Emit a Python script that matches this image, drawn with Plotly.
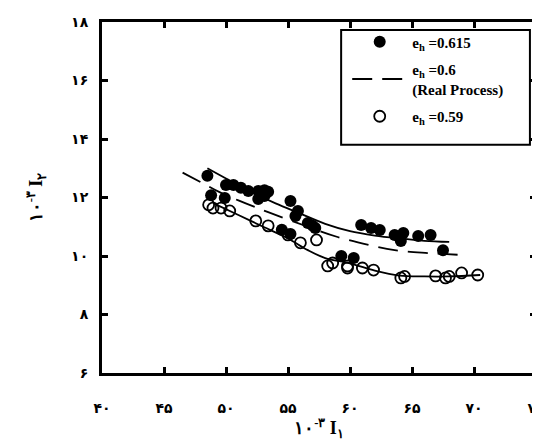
import plotly.graph_objects as go

# ---- data ----
x_tick_vals = [40, 45, 50, 55, 60, 65, 70, 75]
x_tick_text = ["۴۰", "۴۵", "۵۰", "۵۵", "۶۰", "۶۵", "۷۰", "۷۵"]
y_tick_vals = [6, 8, 10, 12, 14, 16, 18]
y_tick_text = ["۶", "۸", "۱۰", "۱۲", "۱۴", "۱۶", "۱۸"]

filled_x = [48.5, 48.8, 49.9, 50.0, 50.6, 51.2, 51.8, 52.6, 53.1, 52.6, 53.1, 53.4,
            54.5, 55.2, 55.2, 55.8, 55.6, 56.6, 57.2, 57.0,
            60.9, 61.7, 62.4, 63.6, 64.3, 64.1, 65.5, 66.5, 67.5, 59.3, 60.3]
filled_y = [12.74, 12.08, 11.98, 12.43, 12.43, 12.33, 12.22, 12.22, 12.25, 11.95, 12.05, 12.2,
            10.9, 10.75, 11.88, 11.54, 11.37, 11.13, 10.96, 11.03,
            11.06, 10.96, 10.89, 10.72, 10.79, 10.51, 10.68, 10.72, 10.2, 10.0, 9.93]

hollow_x = [48.6, 48.95, 49.6, 50.3, 52.4, 53.4, 55.0, 56.0, 57.3,
            58.2, 58.6, 59.8, 59.8, 61.0, 61.9, 64.1, 64.4, 66.9, 67.7, 68.0, 69.0, 70.3]
hollow_y = [11.75, 11.64, 11.64, 11.54, 11.2, 11.03, 10.72, 10.45, 10.55,
            9.66, 9.76, 9.66, 9.59, 9.59, 9.52, 9.25, 9.3, 9.32, 9.25, 9.3, 9.42, 9.35]

upper_x = [48.5, 50, 52, 54, 56, 58, 60, 62, 64, 66, 68]
upper_y = [13.0, 12.65, 12.2, 11.8, 11.45, 11.1, 10.85, 10.7, 10.6, 10.52, 10.48]

real_x = [46.5, 48.3, 49.4, 51.0, 53.4, 56.6, 59.0, 61.5, 63.6, 66.3, 69.3]
real_y = [12.85, 12.45, 12.2, 11.9, 11.5, 11.0, 10.65, 10.38, 10.2, 10.1, 10.03]

lower_x = [49.0, 51.0, 53.0, 55.0, 56.6, 58.0, 60.0, 62.0, 64.0, 66.0, 68.0, 70.5]
lower_y = [11.8, 11.4, 11.0, 10.6, 10.2, 9.93, 9.75, 9.5, 9.33, 9.3, 9.3, 9.35]

FONT = "Liberation Serif, DejaVu Serif, serif"

fig = go.Figure()
fig.add_trace(go.Scatter(x=upper_x, y=upper_y, mode="lines", line=dict(color="black", width=1.8, shape="spline"),
                         showlegend=False, hoverinfo="skip"))
fig.add_trace(go.Scatter(x=lower_x, y=lower_y, mode="lines", line=dict(color="black", width=1.8, shape="spline"),
                         showlegend=False, hoverinfo="skip"))
fig.add_trace(go.Scatter(x=filled_x, y=filled_y, mode="markers", legendgroup="a",
                         marker=dict(symbol="circle", size=12, color="black", line=dict(width=0)),
                         name="<b>e<sub>h</sub> =0.615</b>"))
fig.add_trace(go.Scatter(x=real_x, y=real_y, mode="lines", legendgroup="b",
                         line=dict(color="black", width=1.8, dash="20px,10px", shape="spline"),
                         name="<b>e<sub>h</sub> =0.6<br>(Real Process)</b>"))
fig.add_trace(go.Scatter(x=hollow_x, y=hollow_y, mode="markers", legendgroup="c",
                         marker=dict(symbol="circle-open", size=11, color="black", line=dict(width=1.8)),
                         name="<b>e<sub>h</sub> =0.59</b>"))

axis_common = dict(showgrid=False, zeroline=False, showline=True, linecolor="black", linewidth=3,
                   mirror="ticks", ticks="inside", ticklen=6, tickwidth=2.5, tickcolor="black",
                   automargin=False,
                   tickfont=dict(family="DejaVu Sans", size=14, color="black", weight="bold"))

fig.update_xaxes(range=[40, 75], tickvals=x_tick_vals, ticktext=x_tick_text,
                 ticklabelstandoff=20,
                 title=dict(text="<b>۱۰<sup>-۳</sup> I<sub>۱</sub></b>",
                            font=dict(family=FONT, size=18, color="black"), standoff=3),
                 **axis_common)
fig.update_yaxes(range=[6, 18], tickvals=y_tick_vals, ticktext=y_tick_text,
                 ticklabelstandoff=8,
                 title=dict(text="<b>۱۰<sup>-۳</sup> I<sub>۲</sub></b>",
                            font=dict(family=FONT, size=18, color="black"), standoff=24),
                 **axis_common)

# legend frame (paper coordinates)
fig.add_shape(type="rect", xref="paper", yref="paper", x0=0.551, x1=0.986, y0=0.650, y1=0.977,
              line=dict(color="black", width=2), fillcolor="white", layer="below")

fig.update_layout(
    width=540, height=444,
    margin=dict(l=94, r=12, t=14, b=79),
    paper_bgcolor="white", plot_bgcolor="white",
    font=dict(family=FONT, color="black"),
    legend=dict(x=0.565, y=0.99, xanchor="left", yanchor="top",
                borderwidth=0, bgcolor="rgba(0,0,0,0)",
                font=dict(family=FONT, size=15, color="black"),
                itemwidth=55, tracegroupgap=5),
)

fig.write_html("out.html")
